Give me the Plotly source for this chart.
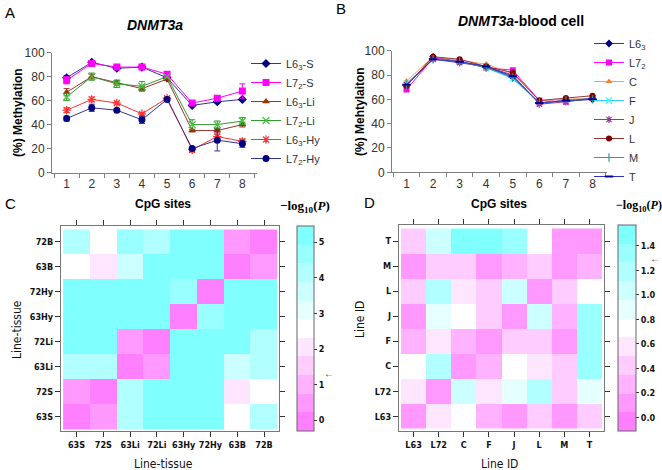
import plotly.graph_objects as go

W, H = 662, 470

# ---------------- data ----------------
cpg_sites = ["1", "2", "3", "4", "5", "6", "7", "8"]

a_names = ["L6<sub>3</sub>-S", "L7<sub>2</sub>-S", "L6<sub>3</sub>-Li", "L7<sub>2</sub>-Li", "L6<sub>3</sub>-Hy", "L7<sub>2</sub>-Hy"]
a_L63_S = [79, 92, 87, 88, 79, 56, 59, 61]
a_L72_S = [77, 91, 88, 88, 82, 58, 62, 68]
a_L63_Li = [67, 80, 75, 70, 78, 35, 35, 40]
a_L72_Li = [63, 80, 74, 72, 80, 40, 40, 43]
a_L63_Hy = [52, 61, 58, 49, 62, 19, 30, 26]
a_L72_Hy = [45, 54, 52, 44, 61, 20, 27, 24]
a_err_L63_S = [2, 1, 1, 1, 1, 1, 1, 1]
a_err_L72_S = [3, 1, 1, 1, 1, 2, 1, 6]
a_err_L63_Li = [3, 2, 2, 2, 1, 1, 2, 2]
a_err_L72_Li = [3, 3, 3, 4, 1, 4, 3, 3]
a_err_L63_Hy = [2, 2, 1, 1, 1, 2, 2, 2]
a_err_L72_Hy = [2, 3, 1, 3, 1, 1, 9, 3]

b_names = ["L6<sub>3</sub>", "L7<sub>2</sub>", "C", "F", "J", "L", "M", "T"]
b_L63 = [71, 95, 91, 87, 78, 57, 59, 60]
b_L72 = [68, 94, 91, 86, 84, 59, 58, 61]
b_C = [75, 95, 92, 89, 81, 59, 60, 61]
b_F = [73, 93, 91, 86, 77, 57, 59, 61]
b_J = [72, 93, 90, 87, 80, 56, 58, 61]
b_L = [71, 95, 93, 87, 82, 59, 61, 63]
b_M = [72, 93, 91, 86, 78, 57, 59, 60]
b_T = [72, 93, 91, 87, 79, 57, 59, 60]

c_labels = ["63S", "72S", "63Li", "72Li", "63Hy", "72Hy", "63B", "72B"]
c_z = [
    [0.1, 0.5, 4.2, 5.2, 5.2, 5.2, 2.6, 4.1],
    [0.5, 0.1, 4.1, 5.2, 5.2, 5.2, 2.0, 2.6],
    [4.2, 4.1, 0.1, 0.5, 5.2, 5.2, 3.5, 4.3],
    [5.2, 5.2, 0.5, 0.1, 5.2, 5.2, 5.2, 4.1],
    [5.2, 5.2, 5.2, 5.2, 0.1, 4.6, 5.2, 5.2],
    [5.2, 5.2, 5.2, 5.2, 4.6, 0.1, 5.2, 5.2],
    [2.6, 2.0, 3.5, 5.2, 5.2, 5.2, 0.1, 0.5],
    [4.1, 2.6, 4.5, 4.1, 5.2, 5.2, 0.5, 0.1],
]

d_labels = ["L63", "L72", "C", "F", "J", "L", "M", "T"]
d_z = [
    [0.08, 0.58, 0.72, 0.25, 0.15, 0.42, 0.12, 0.45],
    [0.58, 0.05, 1.10, 0.58, 0.90, 1.12, 0.42, 0.92],
    [0.72, 1.15, 0.05, 0.20, 0.72, 0.58, 0.40, 1.38],
    [0.25, 0.58, 0.25, 0.12, 0.42, 0.42, 0.12, 1.38],
    [0.10, 0.88, 0.75, 0.45, 0.05, 1.02, 0.25, 1.35],
    [0.40, 1.15, 0.58, 0.45, 1.00, 0.10, 0.45, 0.72],
    [0.10, 0.40, 0.40, 0.10, 0.25, 0.45, 0.15, 0.25],
    [0.45, 1.00, 1.45, 1.45, 1.35, 0.72, 0.15, 0.05],
]

# ---------------- helpers ----------------
def fx(px):
    return px / W

def fy(py):
    return 1 - py / H

ARIAL = "Arial, Liberation Sans, sans-serif"
NARROW = "DejaVu Sans Condensed, Liberation Sans Narrow, Arial Narrow, Arial, sans-serif"
SERIF = "Times New Roman, Liberation Serif, serif"

fig = go.Figure()

# ---------------- panel A ----------------
a_series = [
    (a_names[0], a_L63_S, a_err_L63_S, "#333399", "#000080", "diamond", 7),
    (a_names[1], a_L72_S, a_err_L72_S, "#FF00FF", "#FF00FF", "square", 7),
    (a_names[2], a_L63_Li, a_err_L63_Li, "#993333", "#993300", "triangle-up", 7),
    (a_names[3], a_L72_Li, a_err_L72_Li, "#339933", "#33CC33", "x-thin", 7),
    (a_names[4], a_L63_Hy, a_err_L63_Hy, "#FF3333", "#FF3333", "asterisk", 7),
    (a_names[5], a_L72_Hy, a_err_L72_Hy, "#333399", "#000080", "circle", 7),
]
for name, ys, err, lc, mc, sym, ms in a_series:
    thin = sym in ("x-thin", "asterisk", "cross-thin", "line-ew")
    fig.add_trace(go.Scatter(
        x=cpg_sites, y=ys, name=name, mode="lines+markers",
        line=dict(color=lc, width=1),
        marker=dict(symbol=sym, size=ms, color=mc,
                    line=dict(color=mc, width=1.2 if thin else 0)),
        error_y=dict(type="data", array=err, color=lc, thickness=1, width=3),
        xaxis="x", yaxis="y", legend="legend",
    ))

# ---------------- panel B ----------------
b_series = [
    (b_names[0], b_L63, "#333399", "#000080", "diamond", 6),
    (b_names[1], b_L72, "#FF00FF", "#FF00FF", "square", 6),
    (b_names[2], b_C, "#F4A460", "#FF7F27", "triangle-up", 6),
    (b_names[3], b_F, "#33CCFF", "#33FFFF", "x-thin", 6),
    (b_names[4], b_J, "#993399", "#993399", "asterisk", 6),
    (b_names[5], b_L, "#993333", "#800000", "circle", 6),
    (b_names[6], b_M, "#339999", "#339999", "cross-thin", 6),
    (b_names[7], b_T, "#3333CC", "#000099", "line-ew", 6),
]
for name, ys, lc, mc, sym, ms in b_series:
    thin = sym in ("x-thin", "asterisk", "cross-thin", "line-ew")
    fig.add_trace(go.Scatter(
        x=cpg_sites, y=ys, name=name, mode="lines+markers",
        line=dict(color=lc, width=1),
        marker=dict(symbol=sym, size=ms, color=mc,
                    line=dict(color=mc, width=2 if sym == "line-ew" else (1.2 if thin else 0))),
        xaxis="x2", yaxis="y2", legend="legend2",
    ))

# ---------------- heatmaps ----------------
def cm_colors_rev(n):
    # R cm.colors(n), reversed (magenta -> white -> cyan)
    import colorsys
    k = n // 2
    even = n % 2 == 0
    l1 = k + 1 - (1 if even else 0)
    l2 = n - k + (1 if even else 0)
    cols = []
    end1 = 0.5 / k if even else 0.0
    for i in range(l1):
        s = 0.5 + (end1 - 0.5) * i / (l1 - 1) if l1 > 1 else 0.5
        r, g, b = colorsys.hsv_to_rgb(6 / 12, s, 1)
        cols.append("rgb(%d,%d,%d)" % (round(r * 255), round(g * 255), round(b * 255)))
    for i in range(1, l2):
        s = 0.5 * i / (l2 - 1)
        r, g, b = colorsys.hsv_to_rgb(10 / 12, s, 1)
        cols.append("rgb(%d,%d,%d)" % (round(r * 255), round(g * 255), round(b * 255)))
    return cols[::-1]

NB = 11
band_cols = cm_colors_rev(NB)
cscale = []
for i, c in enumerate(band_cols):
    cscale.append([i / NB, c])
    cscale.append([(i + 1) / NB, c])

c_zmin, c_zmax = -0.3, 5.45
d_zmin, d_zmax = -0.11, 1.57

c_bar = dict(x0=297, x1=314, y0=226, y1=431)
d_bar = dict(x0=618, x1=636, y0=225, y1=431)

def colorbar(bar, tickvals, ticktext):
    return dict(
        x=fx(bar["x0"]), xanchor="left", xref="paper",
        y=fy(bar["y1"]), yanchor="bottom", yref="paper",
        len=bar["y1"] - bar["y0"], lenmode="pixels",
        thickness=bar["x1"] - bar["x0"], thicknessmode="pixels",
        xpad=0, ypad=0,
        outlinecolor="#666666", outlinewidth=1,
        ticks="outside", ticklen=3, tickcolor="#333333",
        tickvals=tickvals, ticktext=ticktext,
        tickfont=dict(family=NARROW, size=9, color="#111111", weight="bold"),
    )

fig.add_trace(go.Heatmap(
    z=c_z, x=list(range(8)), y=list(range(8)),
    zmin=c_zmin, zmax=c_zmax, colorscale=cscale,
    colorbar=colorbar(c_bar, [0, 1, 2, 3, 4, 5], ["0", "1", "2", "3", "4", "5"]),
    xaxis="x3", yaxis="y3", hoverinfo="skip",
))
d_ticks = [0, 0.2, 0.4, 0.6, 0.8, 1.0, 1.2, 1.4]
fig.add_trace(go.Heatmap(
    z=d_z, x=list(range(8)), y=list(range(8)),
    zmin=d_zmin, zmax=d_zmax, colorscale=cscale,
    colorbar=colorbar(d_bar, d_ticks, ["%.1f" % t for t in d_ticks]),
    xaxis="x4", yaxis="y4", hoverinfo="skip",
))

# ---------------- axes ----------------
line_axis = dict(showline=True, linecolor="#808080", linewidth=1, showgrid=False, zeroline=False,
                 ticks="outside", ticklen=4, tickcolor="#808080", automargin=False,
                 tickfont=dict(family=ARIAL, size=12, color="#333333"))

heat_axis = dict(showline=True, mirror="allticks", linecolor="#777777", linewidth=1.2,
                 showgrid=False, zeroline=False, ticks="outside", ticklen=5, tickcolor="#333333",
                 tickangle=0, automargin=False,
                 tickfont=dict(family=NARROW, size=9, color="#111111", weight="bold"))

fig.update_layout(
    width=W, height=H, margin=dict(l=0, r=0, t=0, b=0, autoexpand=False),
    paper_bgcolor="white", plot_bgcolor="white",
    xaxis=dict(line_axis, domain=[fx(52), fx(257)], type="category", tickson="boundaries",
               anchor="y"),
    yaxis=dict(line_axis, domain=[fy(172.5), fy(52.7)], range=[0, 100], dtick=20, anchor="x"),
    xaxis2=dict(line_axis, domain=[fx(392), fx(607)], type="category", tickson="boundaries",
                anchor="y2"),
    yaxis2=dict(line_axis, domain=[fy(172.3), fy(50.7)], range=[0, 100], dtick=20, anchor="x2"),
    xaxis3=dict(heat_axis, domain=[fx(61), fx(279)], range=[-0.58, 7.56],
                tickvals=list(range(8)), ticktext=c_labels, anchor="y3"),
    yaxis3=dict(heat_axis, domain=[fy(431), fy(226)], range=[-0.58, 7.64],
                tickvals=list(range(8)), ticktext=c_labels, anchor="x3"),
    xaxis4=dict(heat_axis, domain=[fx(399), fx(604)], range=[-0.58, 7.58],
                tickvals=list(range(8)), ticktext=d_labels, anchor="y4"),
    yaxis4=dict(heat_axis, domain=[fy(431), fy(225)], range=[-0.58, 7.64],
                tickvals=list(range(8)), ticktext=d_labels, anchor="x4"),
    legend=dict(x=fx(246), xanchor="left", y=fy(111), yanchor="middle",
                bgcolor="rgba(0,0,0,0)", font=dict(family=ARIAL, size=11, color="#333333"),
                itemwidth=30, tracegroupgap=0),
    legend2=dict(x=fx(589), xanchor="left", y=fy(110), yanchor="middle",
                 bgcolor="rgba(0,0,0,0)", font=dict(family=ARIAL, size=11, color="#333333"),
                 itemwidth=30, tracegroupgap=0),
)

# ---------------- text ----------------
def ann(text, x, y, size, family=ARIAL, color="#000000", angle=0, xanchor="center"):
    fig.add_annotation(text=text, x=fx(x), y=fy(y), xref="paper", yref="paper",
                       showarrow=False, xanchor=xanchor, yanchor="middle", textangle=angle,
                       font=dict(family=family, size=size, color=color))

ann("A", 3, 12, 15, xanchor="left")
ann("B", 334, 8, 15, xanchor="left")
ann("C", 3, 203, 15, xanchor="left")
ann("D", 362, 202, 15, xanchor="left")

ann("<b><i>DNMT3a</i></b>", 155, 25, 14)
ann("<b><i>DNMT3a</i>-blood cell</b>", 521, 21, 14)
ann("<b>(%) Methylation</b>", 18, 113, 12, angle=-90)
ann("<b>(%) Mehtylaiton</b>", 360, 112, 12, angle=-90)
ann("<b>CpG sites</b>", 163, 204, 12)
ann("<b>CpG sites</b>", 499, 204, 12)

ann("Line-tissue", 163, 464, 12, family=NARROW, color="#111111")
ann("Line-tissue", 17, 330, 12, family=NARROW, color="#111111", angle=-90)
ann("Line ID", 499, 464, 12, family=NARROW, color="#111111")
ann("Line ID", 360, 320, 12, family=NARROW, color="#111111", angle=-90)

ann("<b>\u2212log<sub>10</sub>(<i>P</i>)</b>", 305, 206, 13, family=SERIF)
ann("<b>\u2212log<sub>10</sub>(<i>P</i>)</b>", 639, 206, 12, family=SERIF)

# significance arrows at -log10(0.05) on each colorbar
sig = 1.3
def bar_y(bar, zmin, zmax, v):
    return bar["y1"] - (v - zmin) / (zmax - zmin) * (bar["y1"] - bar["y0"])
ann("\u2190", 329, bar_y(c_bar, c_zmin, c_zmax, sig), 10, color="#333333")
ann("\u2190", 655, bar_y(d_bar, d_zmin, d_zmax, sig), 10, color="#333333")

# remove the browser's default 8px page margin so the figure fills the window
fig.write_html("out.html", config={"displayModeBar": False},
               post_script="document.body.style.margin='0px';")
